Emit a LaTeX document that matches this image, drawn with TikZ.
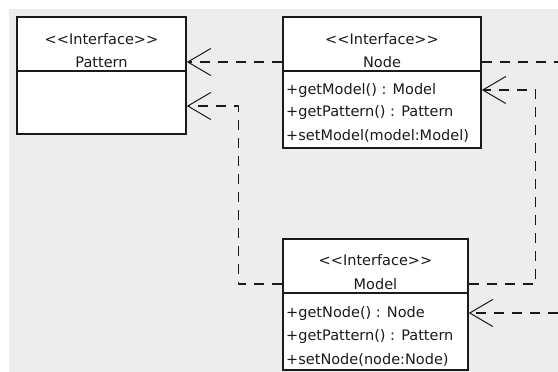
\documentclass[tikz,border=0pt]{standalone}
\usepackage{fontspec}
\setmainfont{DejaVu Sans}
\usetikzlibrary{arrows.meta}
\definecolor{bggray}{HTML}{EDEDED}
\definecolor{ink}{HTML}{1A1A1A}
\newcommand{\stereo}{{<}{<}Interface{>}{>}}
\tikzset{
  umlbox/.style={draw=ink, line width=1.6pt, fill=white, inner sep=0pt, rectangle},
  divider/.style={draw=ink, line width=1.6pt},
  txt/.style={inner sep=0pt, font=\fontsize{14.5}{16}\selectfont, text=ink},
  attr/.style={txt, anchor=west},
  dep/.style={draw=ink, line width=1.3pt, dash pattern=on 10pt off 8pt,
    -{Straight Barb[length=23pt, width=27pt, line width=1pt]}},
  depline/.style={draw=ink, line width=1.3pt, dash pattern=on 10pt off 8pt}
}
\begin{document}
\begin{tikzpicture}[x=1pt,y=-1pt]
\useasboundingbox (0,0) rectangle (558,372);
\fill[bggray] (9,9) rectangle (558,372);

% Pattern
\node[umlbox, minimum width=169pt, minimum height=117pt] (pattern) at (101.5,75.5) {};
\draw[divider] (pattern.west |- 0,71) -- (pattern.east |- 0,71);
\node[txt] (patst) at (101.5,39) {\stereo};
\node[txt] (patname) at (101.5,62) {Pattern};

% Node
\node[umlbox, minimum width=198pt, minimum height=131pt] (node) at (382,82.5) {};
\draw[divider] (node.west |- 0,71) -- (node.east |- 0,71);
\node[txt] (nodest) at (382,39) {\stereo};
\node[txt] (nodename) at (382,62) {Node};
\node[attr] (na1) at (286,90) {+getModel() : Model};
\node[attr] (na2) at (286,113) {+getPattern() : Pattern};
\node[attr] (na3) at (286,136) {+setModel(model:Model)};

% Model
\node[umlbox, minimum width=185pt, minimum height=131pt] (model) at (375.5,304.5) {};
\draw[divider] (model.west |- 0,293) -- (model.east |- 0,293);
\node[txt] (modelst) at (375.5,260) {\stereo};
\node[txt] (modelname) at (375.5,284) {Model};
\node[attr] (ma1) at (286,313) {+getNode() : Node};
\node[attr] (ma2) at (286,337) {+getPattern() : Pattern};
\node[attr] (ma3) at (286,360) {+setNode(node:Node)};

% free ends
\coordinate (offA) at (558,62);
\coordinate (offB) at (558,313);

% connectors
\draw[dep] (node.west |- nodename) -- (pattern.east |- nodename);
\draw[depline] (node.east |- nodename) -- (offA);
\draw[dep] (model.east |- modelname) -- ++(67,0) |- (node.east |- na1);
\draw[dep] (model.west |- modelname) -- ++(-44,0) |- (pattern.east |- 0,106);
\draw[dep] (offB) -- (model.east |- ma1);
\end{tikzpicture}
\end{document}
